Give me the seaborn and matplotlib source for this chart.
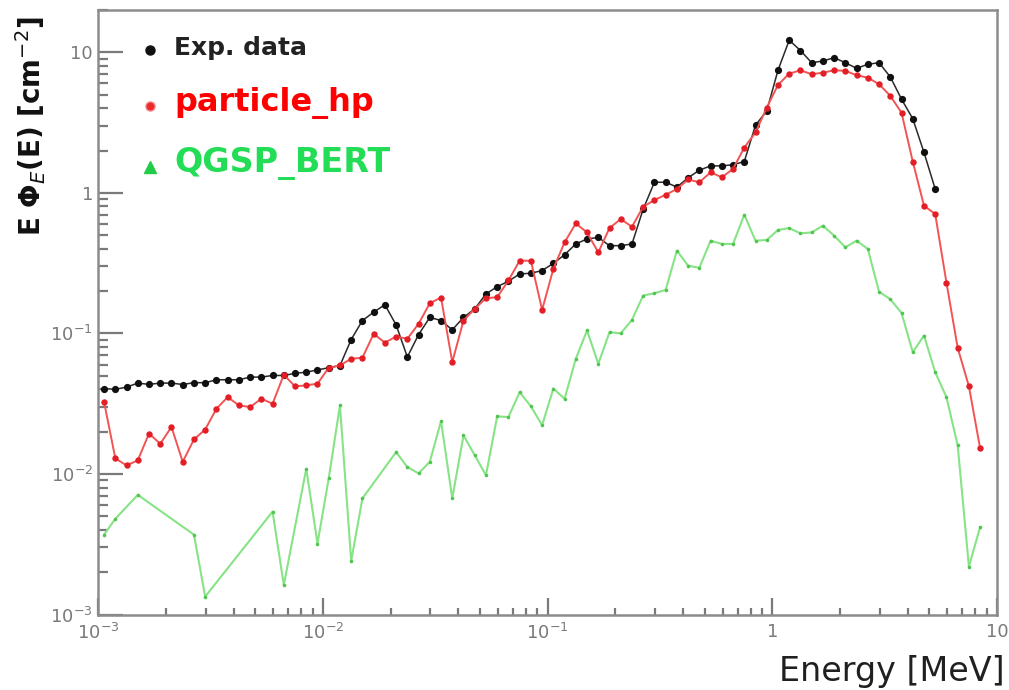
import numpy as np
import pandas as pd
import matplotlib
matplotlib.use("Agg")
import matplotlib.pyplot as plt
import seaborn as sns
from matplotlib.lines import Line2D
from matplotlib.ticker import FixedLocator, FuncFormatter, NullFormatter

# Energy binning: 80 logarithmic bins of 0.05 decade between 1 keV and 10 MeV
bin_edges_log = np.linspace(-3.0, 1.0, 81)
bin_centers = 10 ** (0.5 * (bin_edges_log[:-1] + bin_edges_log[1:]))

# Measured spectrum, E*Phi_E(E) [cm^-2], bins 0..74
exp_data = [
    0.0405, 0.040, 0.0415, 0.0443, 0.0434, 0.0443, 0.0443, 0.0433, 0.0446, 0.0446,
    0.0468, 0.0468, 0.0468, 0.0489, 0.0489, 0.0502, 0.0502, 0.052, 0.053, 0.055,
    0.057, 0.059, 0.0905, 0.1235, 0.1415, 0.160, 0.115, 0.068, 0.098, 0.130,
    0.1235, 0.106, 0.130, 0.1495, 0.191, 0.215, 0.235, 0.265, 0.268, 0.28,
    0.315, 0.363, 0.433, 0.47, 0.482, 0.421, 0.421, 0.433, 0.767, 1.19,
    1.19, 1.10, 1.28, 1.45, 1.556, 1.556, 1.585, 1.67, 3.03, 3.83,
    7.45, 12.2, 10.3, 8.43, 8.67, 9.16, 8.43, 7.69, 8.22, 8.43,
    6.68, 4.64, 3.37, 1.94, 1.064,
]

# Geant4 particle_hp prediction, bins 0..78
particle_hp = [
    0.0325, 0.0129, 0.0115, 0.0125, 0.0194, 0.0164, 0.0216, 0.0122, 0.0176, 0.0207,
    0.0291, 0.0352, 0.0308, 0.0299, 0.0343, 0.0316, 0.0508, 0.042, 0.0427, 0.0439,
    0.057, 0.0592, 0.066, 0.0671, 0.0993, 0.086, 0.095, 0.0916, 0.117, 0.164,
    0.180, 0.0625, 0.1235, 0.1495, 0.178, 0.181, 0.238, 0.329, 0.329, 0.147,
    0.288, 0.445, 0.606, 0.523, 0.377, 0.562, 0.651, 0.574, 0.797, 0.889,
    0.969, 1.065, 1.245, 1.19, 1.40, 1.29, 1.48, 2.10, 2.69, 4.04,
    5.86, 7.05, 7.45, 6.98, 7.17, 7.45, 7.38, 6.87, 6.6, 5.93,
    4.9, 3.72, 1.67, 0.81, 0.707, 0.23, 0.079, 0.042, 0.0152,
]

# Geant4 QGSP_BERT prediction (only non-empty bins)
qgsp_bins = [
    0, 1, 3, 8, 9, 15, 16, 18, 19, 20, 21, 22, 23, 26, 27, 28, 29, 30, 31, 32,
    33, 34, 35, 36, 37, 38, 39, 40, 41, 42, 43, 44, 45, 46, 47, 48, 49, 50, 51, 52,
    53, 54, 55, 56, 57, 58, 59, 60, 61, 62, 63, 64, 65, 66, 67, 68, 69, 70, 71, 72,
    73, 74, 75, 76, 77, 78,
]
qgsp_bert = [
    0.0037, 0.0048, 0.0071, 0.0037, 0.00134, 0.0054, 0.00162, 0.0109, 0.0032, 0.0093,
    0.0308, 0.0024, 0.0067, 0.0143, 0.0112, 0.0101, 0.0122, 0.0238, 0.0067, 0.0188,
    0.0136, 0.0098, 0.0257, 0.0254, 0.0382, 0.0303, 0.0222, 0.0405, 0.0343, 0.066,
    0.105, 0.0608, 0.102, 0.100, 0.125, 0.186, 0.193, 0.204, 0.388, 0.303,
    0.293, 0.457, 0.433, 0.433, 0.699, 0.457, 0.462, 0.544, 0.562, 0.515,
    0.523, 0.584, 0.496, 0.41, 0.457, 0.399, 0.198, 0.175, 0.14, 0.0735,
    0.0966, 0.053, 0.0352, 0.016, 0.00219, 0.0042,
]

legend_labels = ["Exp. data", "particle_hp", "QGSP_BERT"]

df_exp = pd.DataFrame({"energy": bin_centers[:len(exp_data)], "flux": exp_data})
df_hp = pd.DataFrame({"energy": bin_centers[:len(particle_hp)], "flux": particle_hp})
df_qgsp = pd.DataFrame({"energy": bin_centers[qgsp_bins], "flux": qgsp_bert})

sns.set_style("white")
plt.rcParams["font.family"] = ["DejaVu Sans"]
plt.rcParams["mathtext.fontset"] = "dejavusans"

fig = plt.figure(figsize=(10.09, 6.90), dpi=100)
ax = fig.add_axes([0.0976, 0.1094, 0.8905, 0.8761])

sns.lineplot(data=df_qgsp, x="energy", y="flux", ax=ax, sort=False, errorbar=None,
             color="#86e486", linewidth=1.5, marker="o", markersize=2.6,
             markeredgewidth=0, markerfacecolor="#52c452", legend=False)
sns.lineplot(data=df_exp, x="energy", y="flux", ax=ax, sort=False, errorbar=None,
             color="#2a2a2a", linewidth=1.1, marker="o", markersize=5.2,
             markeredgewidth=0, markerfacecolor="#101010", legend=False)
sns.lineplot(data=df_hp, x="energy", y="flux", ax=ax, sort=False, errorbar=None,
             color="#f25454", linewidth=1.4, marker="o", markersize=4.6,
             markeredgewidth=0, markerfacecolor="#e41e26", legend=False)

ax.set_xscale("log")
ax.set_yscale("log")
ax.set_xlim(1e-3, 10)
ax.set_ylim(1e-3, 20)


def decade_label(v, _pos):
    if np.isclose(v, 1):
        return "1"
    if np.isclose(v, 10):
        return "10"
    return r"$10^{%d}$" % int(round(np.log10(v)))


majors = [1e-3, 1e-2, 1e-1, 1, 10]
minors = [m * 10.0 ** e for e in range(-3, 2) for m in range(2, 10)]
for axis in (ax.xaxis, ax.yaxis):
    axis.set_major_locator(FixedLocator(majors))
    axis.set_minor_locator(FixedLocator(minors))
    axis.set_major_formatter(FuncFormatter(decade_label))
    axis.set_minor_formatter(NullFormatter())

ax.tick_params(axis="both", which="both", direction="in", colors="#7a7a7a",
               width=1.6, labelcolor="#7a7a7a", labelsize=13,
               bottom=True, left=True, top=False, right=False)
ax.tick_params(axis="y", which="major", length=18, pad=4)
ax.tick_params(axis="y", which="minor", length=7)
ax.tick_params(axis="x", which="major", length=12, pad=6)
ax.tick_params(axis="x", which="minor", length=5)

for side in ("left", "right", "top", "bottom"):
    ax.spines[side].set_visible(True)
    ax.spines[side].set_color("#8c8c8c")
    ax.spines[side].set_linewidth(1.8)

ax.set_xlabel("Energy [MeV]", fontsize=24, color="#202020", ha="right", va="center")
ax.xaxis.set_label_coords(1.009, -0.095)
ax.set_ylabel(r"E $\mathbf{\Phi}_{E}$(E) [cm$^{-2}$]", fontsize=20,
              fontweight="bold", color="#111111", ha="right", va="bottom")
ax.yaxis.set_label_coords(-0.056, 0.99)

handles = [
    Line2D([], [], linestyle="none", marker="o", markersize=6.5, color="#111111"),
    Line2D([], [], linestyle="none", marker="o", markersize=6.5, color="#ec2a2a",
           markeredgecolor="#f58080"),
    Line2D([], [], linestyle="none", marker="^", markersize=8, color="#22cc48"),
]
leg = ax.legend(handles, legend_labels, loc="upper left", bbox_to_anchor=(0.050, 0.957),
                frameon=False, handlelength=0.9, handletextpad=1.3,
                labelspacing=1.95, borderaxespad=0, borderpad=0)
for txt, col, size in zip(leg.get_texts(), ["#222222", "#ff0000", "#22dd55"], [18, 23, 24]):
    txt.set_color(col)
    txt.set_fontsize(size)
    txt.set_fontweight("bold")

fig.savefig("out.png", dpi=100, facecolor="white")
